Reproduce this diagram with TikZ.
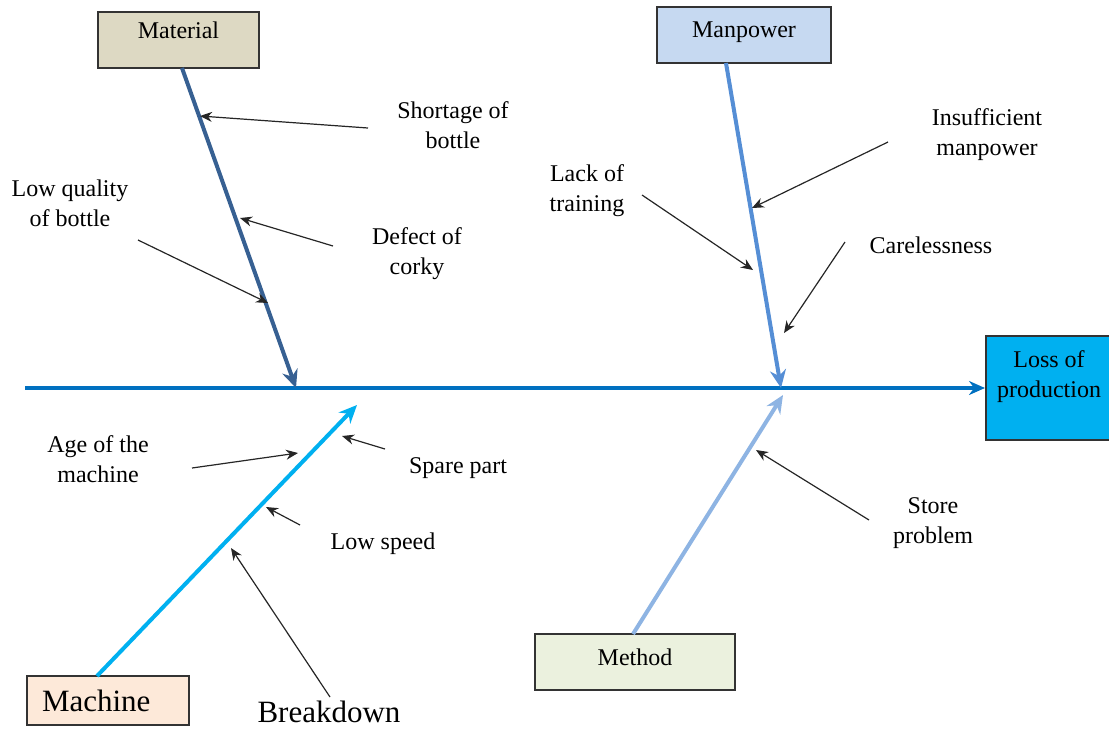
\documentclass[tikz,border=0pt]{standalone}
\usepackage{fontspec}
\setmainfont{Liberation Serif}
\usepackage{tikz}
\usetikzlibrary{arrows.meta}
\definecolor{SpineBlue}{HTML}{0070C0}
\definecolor{MatBlue}{HTML}{376092}
\definecolor{ManBlue}{HTML}{558ED5}
\definecolor{MacBlue}{HTML}{00B0F0}
\definecolor{MetBlue}{HTML}{8EB4E3}
\tikzset{%
  CauseBox/.style={draw=black!80,line width=1pt,minimum width=80pt,minimum height=28pt,font=\fontsize{12}{15}\selectfont},
  CauseText/.style={align=center,inner sep=1pt,font=\fontsize{12}{15}\selectfont},
  SubArrow/.style={draw=black!85,line width=0.6pt,-{Stealth[length=6pt,width=5pt]}},
  BoneArrow/.style={line width=2pt,-{Stealth[length=9pt,width=8pt]}}
}

\begin{document}
\begin{tikzpicture}[x=0.5pt,y=-0.5pt]
\useasboundingbox (0,0) rectangle (1109,730);

\node (mat) [CauseBox,fill={rgb,255:red,221;green,217;blue,195},minimum width=80.5pt,text depth=9pt] at (178.5,39.5) {Material};
\node (man) [CauseBox,fill={rgb,255:red,198;green,217;blue,241},minimum width=87pt,text depth=5pt] at (744,35) {Manpower};
\node (mac) [CauseBox,fill={rgb,255:red,253;green,233;blue,217},minimum width=81pt,minimum height=24.5pt,text width=66pt,inner xsep=7.5pt,align=left,font=\fontsize{15.5}{18}\selectfont] at (108,700.5) {Machine};
\node (met) [CauseBox,fill={rgb,255:red,235;green,241;blue,222},minimum width=100pt,text depth=5pt] at (635,662) {Method};
\node (loss) [CauseBox,fill=MacBlue,minimum width=63pt,minimum height=52pt,align=center,text depth=14pt] at (1049,388) {Loss of\\production};

\coordinate (tail) at (25,388);
\coordinate (matEnd) at (296,388);
\coordinate (manEnd) at (781,388);
\coordinate (macEnd) at (357,405);
\coordinate (metEnd) at (783,395);

\draw [SpineBlue,line width=1.6pt,-{Stealth[length=8pt,width=7pt]}] (tail) -- (loss.west);
\draw [BoneArrow,MatBlue] (182,68) -- (matEnd);
\draw [BoneArrow,ManBlue] (726,63) -- (manEnd);
\draw [BoneArrow,MacBlue] (97,676) -- (macEnd);
\draw [BoneArrow,MetBlue] (633,634) -- (metEnd);

% labels
\node (l1) [CauseText] at (453,125) {Shortage of\\bottle};
\node (l2) [CauseText] at (417,254) {Defect of\\corky};
\node (l3) [CauseText] at (70,203) {Low quality\\of bottle};
\node (l4) [CauseText] at (987,135) {Insufficient\\manpower};
\node (l5) [CauseText] at (587,191) {Lack of\\training};
\node (l6) [CauseText] at (931,245) {Carelessness};
\node (l7) [CauseText] at (98,459) {Age of the\\machine};
\node (l8) [CauseText] at (458,468) {Spare part};
\node (l9) [CauseText] at (383,544) {Low speed};
\node (l10) [CauseText,font=\fontsize{15.5}{18}\selectfont] at (329,712) {Breakdown};
\node (l11) [CauseText] at (933,523) {Store\\problem};

% arrow ends on the bones
\coordinate (a1) at (200,116);  \coordinate (t1) at (368,128);
\coordinate (a2) at (240,218);  \coordinate (t2) at (333,246);
\coordinate (a3) at (268,303);  \coordinate (t3) at (138,240);
\coordinate (a4) at (752,208);  \coordinate (t4) at (888,142);
\coordinate (a5) at (753,270);  \coordinate (t5) at (642,195);
\coordinate (a6) at (784,333);  \coordinate (t6) at (845,242);
\coordinate (a7) at (298,453);  \coordinate (t7) at (192,468);
\coordinate (a8) at (342,436);  \coordinate (t8) at (385,449);
\coordinate (a9) at (266,507);  \coordinate (t9) at (300,525);
\coordinate (a10) at (231,548); \coordinate (t10) at (330,697);
\coordinate (a11) at (756,450); \coordinate (t11) at (869,520);

\foreach \i in {1,...,11} {
    \draw [SubArrow] (t\i) -- (a\i);
}
\end{tikzpicture}
\end{document}
